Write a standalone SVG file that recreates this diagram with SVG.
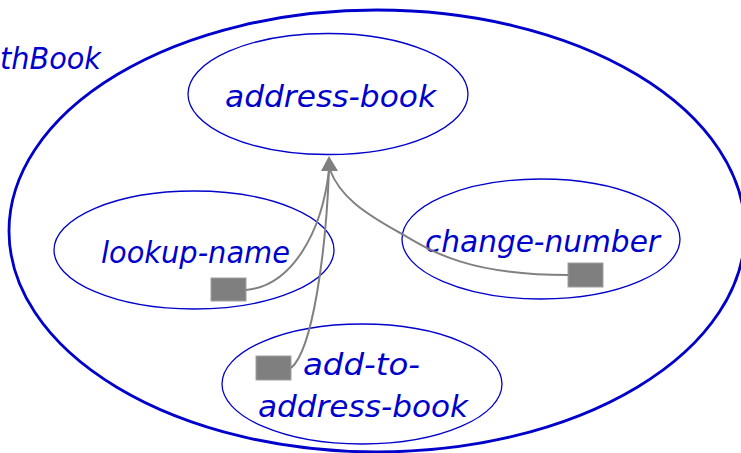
<svg xmlns="http://www.w3.org/2000/svg" width="741" height="453" viewBox="0 0 741 453">
<defs>
<style>
.lbl{font-family:"DejaVu Sans","Liberation Sans",sans-serif;font-style:italic;font-size:30px;fill:#0000cc}
.node{fill:none;stroke:#0000cc;stroke-width:1.3}
.outer{fill:none;stroke:#0000cc;stroke-width:2.8}
.port{fill:#7f7f7f;stroke:#a0a0a0;stroke-width:1}
.conn{fill:none;stroke:#808080;stroke-width:2}
.head{fill:#808080}
</style>
</defs>
<rect width="741" height="453" fill="#ffffff"/>
<g id="pathbook">
<ellipse class="outer" cx="377" cy="231" rx="368" ry="221"/>
<text class="lbl" x="0" y="69" textLength="101" lengthAdjust="spacingAndGlyphs">thBook</text>
</g>
<g id="address-book">
<ellipse class="node" cx="328" cy="94" rx="140" ry="60.5"/>
<text class="lbl" x="225" y="107" textLength="211" lengthAdjust="spacingAndGlyphs">address-book</text>
</g>
<g id="lookup-name">
<ellipse class="node" cx="194" cy="250" rx="140" ry="59"/>
<text class="lbl" x="101" y="263" textLength="189" lengthAdjust="spacingAndGlyphs">lookup-name</text>
<rect class="port" x="211" y="278" width="35" height="23"/>
</g>
<g id="change-number">
<ellipse class="node" cx="541" cy="239" rx="139" ry="60"/>
<text class="lbl" x="425" y="252" textLength="235" lengthAdjust="spacingAndGlyphs">change-number</text>
<rect class="port" x="568" y="263" width="35" height="24"/>
</g>
<g id="add-to-address-book">
<ellipse class="node" cx="362" cy="384" rx="140" ry="60"/>
<text class="lbl" x="303" y="375" textLength="117" lengthAdjust="spacingAndGlyphs">add-to-</text>
<text class="lbl" x="258" y="417" textLength="210" lengthAdjust="spacingAndGlyphs">address-book</text>
<rect class="port" x="256" y="356" width="35" height="24"/>
</g>
<g id="connectors">
<path class="conn" d="M246,290 C292,286 322,232 329,170"/>
<path class="conn" d="M291,368 C313,350 326,250 329,170"/>
<path class="conn" d="M568,275 C470,275 432,252 402,234 C362,212 340,196 330,170"/>
<polygon class="head" points="329,156 321,171 338,171"/>
</g>
</svg>
